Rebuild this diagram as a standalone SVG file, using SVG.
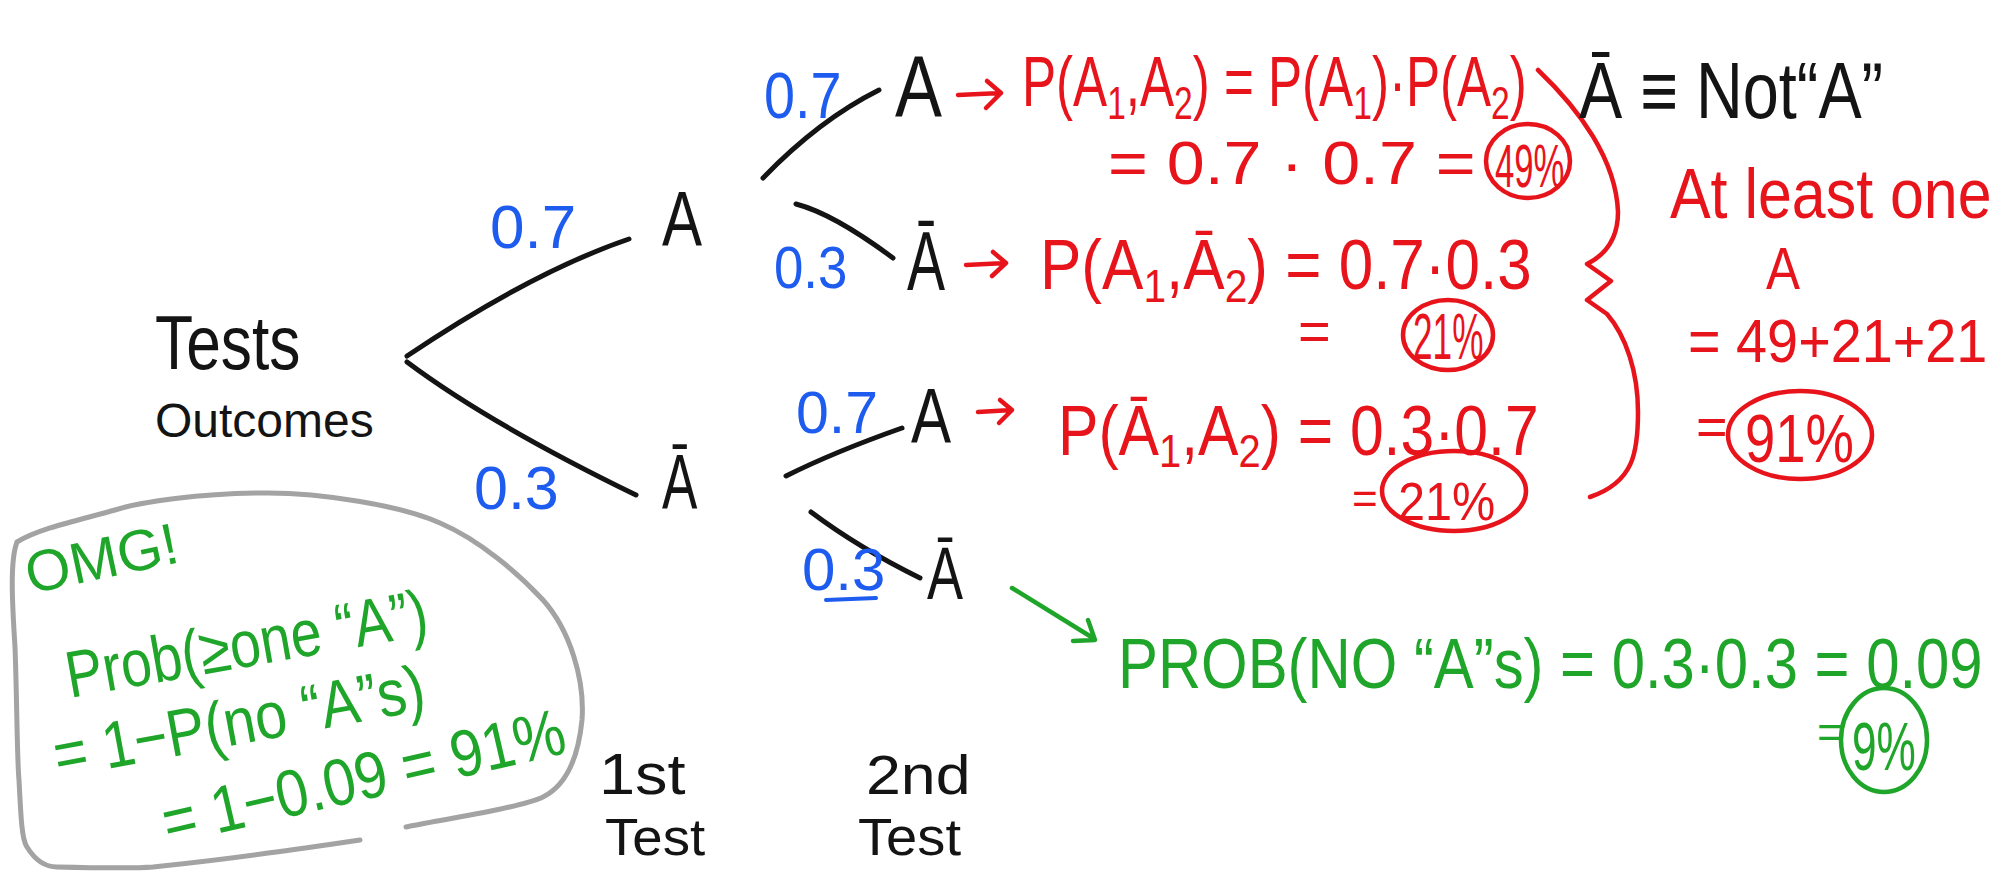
<svg xmlns="http://www.w3.org/2000/svg" width="1997" height="873" viewBox="0 0 1997 873">
<style>
text{font-family:"Liberation Sans","DejaVu Sans",sans-serif;}
.k{fill:#141414;}
.b{fill:#1e5cf0;}
.r{fill:#e8141c;}
.g{fill:#1fa62a;}
.line{fill:none;stroke:#141414;stroke-width:5;stroke-linecap:round;}
.rs{fill:none;stroke:#e8141c;stroke-width:4.5;stroke-linecap:round;stroke-linejoin:round;}
.gs{fill:none;stroke:#1fa62a;stroke-width:4.5;stroke-linecap:round;stroke-linejoin:round;}
.bs{fill:none;stroke:#1e5cf0;stroke-width:4;stroke-linecap:round;}
.gray{fill:none;stroke:#a3a3a3;stroke-width:5;stroke-linecap:round;}
</style>
<rect width="1997" height="873" fill="#ffffff"/>

<g id="connectors">
  <path class="line" d="M407,356 Q532,272 629,239"/>
  <path class="line" d="M407,362 Q490,424 636,495"/>
  <path class="line" d="M763,178 Q819,120 879,90"/>
  <path class="line" d="M796,204 Q834,214 893,258"/>
  <path class="line" d="M786,476 Q834,452 902,428"/>
  <path class="line" d="M811,512 Q859,548 920,578"/>
  <path class="rs" d="M958,95 L1001,93 M987,81 L1001,93 L986,108"/>
  <path class="rs" d="M966,265 L1006,263 M993,252 L1006,263 L992,276"/>
  <path class="rs" d="M978,412 L1012,410 M1000,400 L1012,410 L999,423"/>
  <path class="gs" d="M1012,588 L1093,638 M1073,641 L1095,640 L1088,620"/>
</g>

<g id="root">
  <text class="k" transform="translate(155 369) scale(0.82 1)" font-size="76">Tests</text>
  <text class="k" x="155" y="437" font-size="48">Outcomes</text>
</g>

<g id="n1-A"><text class="k" transform="translate(662 246) scale(0.77 1)" font-size="78">A</text></g>
<g id="n1-notA"><text class="k" transform="translate(662 509) scale(0.68 1)" font-size="78">Ā</text></g>
<g id="n2-AA"><text class="k" transform="translate(895 117) scale(0.8 1)" font-size="88">A</text></g>
<g id="n2-AnotA"><text class="k" transform="translate(907 290) scale(0.68 1)" font-size="84">Ā</text></g>
<g id="n2-notAA"><text class="k" transform="translate(911 443) scale(0.77 1)" font-size="78">A</text></g>
<g id="n2-notAnotA"><text class="k" transform="translate(927 599) scale(0.73 1)" font-size="74">Ā</text></g>

<g id="edge-labels">
  <text class="b" x="490" y="248" font-size="62">0.7</text>
  <text class="b" x="474" y="509" font-size="61">0.3</text>
  <text class="b" transform="translate(764 118) scale(0.87 1)" font-size="64">0.7</text>
  <text class="b" transform="translate(774 288) scale(0.88 1)" font-size="60">0.3</text>
  <text class="b" x="796" y="433" font-size="59">0.7</text>
  <text class="b" x="802" y="590" font-size="60">0.3</text>
  <path class="bs" d="M826,600 L876,598"/>
</g>

<g id="levels">
  <text class="k" transform="translate(599 794) scale(1.12 1)" font-size="58">1st</text>
  <text class="k" transform="translate(605 855) scale(1.05 1)" font-size="52">Test</text>
  <text class="k" transform="translate(866 794) scale(1.12 1)" font-size="56">2nd</text>
  <text class="k" transform="translate(858 855) scale(1.08 1)" font-size="52">Test</text>
</g>

<g id="formula-AA">
  <text class="r" transform="translate(1022 106) scale(0.73 1)" font-size="70">P(A<tspan font-size="46" dy="13">1</tspan><tspan dy="-13">,A</tspan><tspan font-size="46" dy="13">2</tspan><tspan dy="-13">) = P(A</tspan><tspan font-size="46" dy="13">1</tspan><tspan dy="-13">)·P(A</tspan><tspan font-size="46" dy="13">2</tspan><tspan dy="-13">)</tspan></text>
  <text class="r" transform="translate(1108 184) scale(1.1 1)" font-size="62">= 0.7 · 0.7 =</text>
  <text class="r" transform="translate(1495 187) scale(0.56 1)" font-size="62">49%</text>
  <ellipse class="rs" cx="1528" cy="161" rx="42" ry="37"/>
</g>

<g id="formula-AnotA">
  <text class="r" transform="translate(1040 289) scale(0.886 1)" font-size="70">P(A<tspan font-size="46" dy="13">1</tspan><tspan dy="-13">,Ā</tspan><tspan font-size="46" dy="13">2</tspan><tspan dy="-13">) = 0.7·0.3</tspan></text>
  <text class="r" x="1298" y="350" font-size="56">=</text>
  <text class="r" transform="translate(1413 359) scale(0.55 1)" font-size="64">21%</text>
  <ellipse class="rs" cx="1448" cy="335" rx="45" ry="35"/>
</g>

<g id="formula-notAA">
  <text class="r" transform="translate(1058 455) scale(0.866 1)" font-size="70">P(Ā<tspan font-size="46" dy="12">1</tspan><tspan dy="-12">,A</tspan><tspan font-size="46" dy="12">2</tspan><tspan dy="-12">) = 0.3·0.7</tspan></text>
  <text class="r" x="1352" y="514" font-size="44">=</text>
  <text class="r" transform="translate(1398 520) scale(0.9 1)" font-size="54">21%</text>
  <ellipse class="rs" cx="1454" cy="491" rx="72" ry="40"/>
</g>

<g id="brace">
  <path class="rs" d="M1538,70 C1580,110 1616,160 1618,212 C1618,240 1605,255 1587,264 L1611,281 L1587,300 L1607,314 C1626,336 1638,372 1638,412 C1638,452 1634,482 1590,497"/>
</g>

<g id="definition">
  <text class="k" transform="translate(1579 118) scale(0.81 1)" font-size="80">Ā ≡ Not“A”</text>
</g>

<g id="at-least-one">
  <text class="r" transform="translate(1670 218) scale(0.87 1)" font-size="70">At least one</text>
  <text class="r" transform="translate(1766 289) scale(0.85 1)" font-size="60">A</text>
  <text class="r" transform="translate(1688 362) scale(0.9 1)" font-size="62">= 49+21+21</text>
  <text class="r" x="1696" y="445" font-size="54">=</text>
  <text class="r" transform="translate(1745 462) scale(0.8 1)" font-size="68">91%</text>
  <ellipse class="rs" cx="1800" cy="435" rx="72" ry="44"/>
</g>

<g id="no-A">
  <text class="g" transform="translate(1118 688) scale(0.855 1)" font-size="70">PROB(NO “A”s) = 0.3·0.3 = 0.09</text>
  <text class="g" x="1817" y="748" font-size="46">=</text>
  <text class="g" transform="translate(1852 770) scale(0.65 1)" font-size="68">9%</text>
  <ellipse class="gs" cx="1884" cy="740" rx="43" ry="52"/>
</g>

<g id="omg-note">
  <path class="gray" d="M406,827 C440,820 520,808 543,797 C565,786 578,760 582,720 C585,680 570,630 543,600 C520,575 480,540 440,523 C400,505 320,493 268,493 C200,493 140,502 115,510 C80,520 40,528 17,542 C10,560 12,600 15,647 C17,700 17,760 19,780 C21,820 22,840 27,847 C35,860 45,867 57,867 C100,868 140,868 153,867 C200,862 240,857 268,853 C300,849 340,843 360,840"/>
  <text class="g" transform="translate(30 594) rotate(-12)" font-size="58">OMG!</text>
  <text class="g" transform="translate(70 698) rotate(-10) scale(0.84 1)" font-size="66">Prob(≥one “A”)</text>
  <text class="g" transform="translate(58 778) rotate(-10.5) scale(0.87 1)" font-size="66">= 1−P(no “A”s)</text>
  <text class="g" transform="translate(168 845) rotate(-13) scale(0.88 1)" font-size="66">= 1−0.09 = 91%</text>
</g>
</svg>
